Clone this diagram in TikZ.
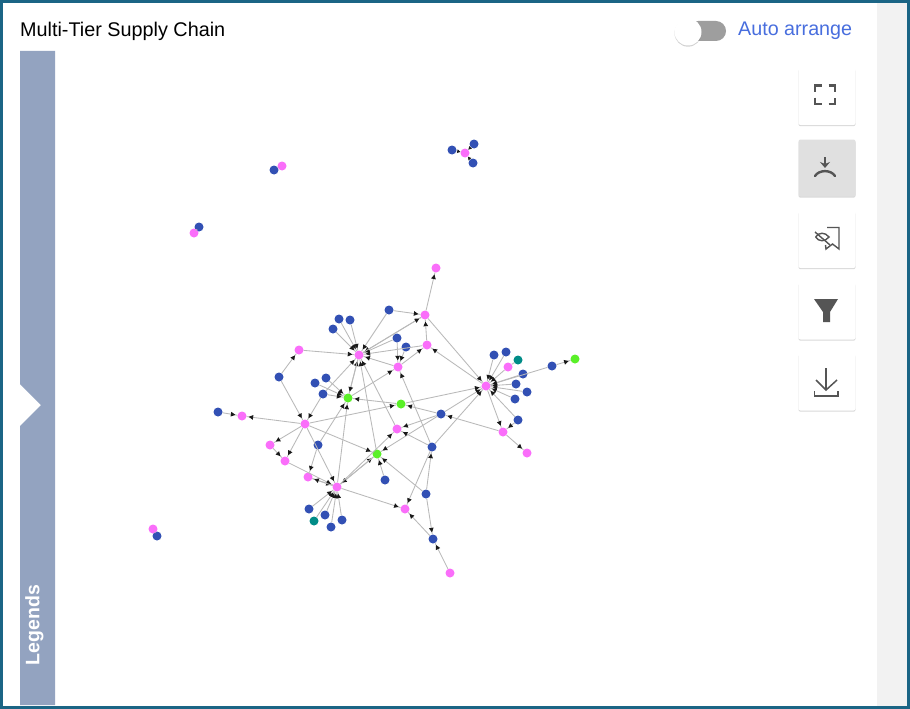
\documentclass[tikz,border=0pt]{standalone}
\usepackage{fontspec}
\setmainfont{Liberation Sans}
\usepackage{tikz}
\usetikzlibrary{arrows.meta,decorations.markings,shadows}
\definecolor{frameblue}{RGB}{27,101,133}
\definecolor{panelgrey}{RGB}{242,242,242}
\definecolor{legendblue}{RGB}{147,163,192}
\definecolor{linkgrey}{RGB}{185,185,185}
\definecolor{icongrey}{RGB}{85,85,85}
\definecolor{autoblue}{RGB}{72,110,222}
\definecolor{tierblue}{RGB}{50,80,180}
\definecolor{tierpink}{RGB}{250,110,250}
\definecolor{tiergreen}{RGB}{90,240,40}
\definecolor{tierteal}{RGB}{0,140,135}
\tikzset{
  bluedot/.style={circle, fill=tierblue, inner sep=0pt, minimum size=9pt},
  pinkdot/.style={circle, fill=tierpink, inner sep=0pt, minimum size=9pt},
  greendot/.style={circle, fill=tiergreen, inner sep=0pt, minimum size=9pt},
  tealdot/.style={circle, fill=tierteal, inner sep=0pt, minimum size=9pt},
  plainlink/.style={draw=linkgrey, line width=0.85pt},
  link/.style={plainlink, postaction={decorate}, decoration={markings,
    mark=at position -2pt with {\arrow[black!90]{Triangle[length=4.5pt,width=4.5pt]}}}},
  shortlink/.style={plainlink, postaction={decorate}, decoration={markings,
    mark=at position -0.2pt with {\arrow[black!90]{Triangle[length=3pt,width=3.5pt]}}}},
  toolbtn/.style={draw=none, fill=white, rounded corners=2pt, minimum width=57pt, minimum height=57pt,
    drop shadow={opacity=0.3, shadow xshift=0pt, shadow yshift=-1.2pt}},
  iconline/.style={draw=icongrey, line width=2.4pt},
}
\begin{document}
\begin{tikzpicture}[x=1pt, y=-1pt]
\useasboundingbox (0,0) rectangle (910,709);
% frame
\fill[white] (0,0) rectangle (910,709);
\fill[panelgrey] (877,3) rectangle (907,706);
\draw[frameblue, line width=3.5pt] (1.5,1.5) rectangle (908.5,707.5);

% header
\node[anchor=west, inner sep=0pt, font=\fontsize{19.8}{22}\selectfont] (title) at (20,31) {Multi-Tier Supply Chain};
\node[anchor=west, inner sep=0pt, font=\fontsize{19.7}{22}\selectfont, text=autoblue] (auto) at (738,31) {Auto arrange};
\fill[black!38, rounded corners=10pt] (688,21) rectangle (726,41);
\node[circle, fill=white, inner sep=0pt, minimum size=27pt, drop shadow={opacity=0.35, shadow xshift=0pt, shadow yshift=-1.2pt}] (knob) at (688,32) {};

% legends strip
\fill[legendblue] (20,51) -- (55,51) -- (55,705) -- (20,705) -- (20,426) -- (41,405) -- (20,384) -- cycle;
\node[rotate=90, text=white, inner sep=0pt, font=\fontsize{19.5}{22}\selectfont\bfseries] (legends) at (34.5,625) {Legends};

% buttons
\node[toolbtn] (fullbtn) at (827,96.5) {};
\node[toolbtn, fill=black!12] (fitbtn) at (827,168) {};
\node[toolbtn] (hidebtn) at (827,239.5) {};
\node[toolbtn] (filterbtn) at (827,311) {};
\node[toolbtn] (savebtn) at (827,382) {};

% icons
\draw[iconline] (815,91.5) -- (815,85.5) -- (821.5,85.5);
\draw[iconline] (828.5,85.5) -- (835,85.5) -- (835,91.5);
\draw[iconline] (815,97.5) -- (815,104) -- (821.5,104);
\draw[iconline] (828.5,104) -- (835,104) -- (835,97.5);
\draw[icongrey, line width=2.2pt, -{Stealth[length=6pt,width=10pt]}] (825,157) -- (825,168);
\draw[iconline, line cap=round] (815,176) .. controls (819,169.5) and (831,169.5) .. (835,176);
\draw[icongrey, line width=1.4pt] (827,227.5) -- (839,227.5) -- (839,249) -- (832.5,244) -- (826,249) -- (825.5,245);
\draw[icongrey, line width=1.4pt] (815.5,237) .. controls (819,232) and (825,232) .. (829,237) .. controls (825,242) and (819,242) .. (815.5,237);
\draw[icongrey, line width=1.4pt] (815,232) -- (830,245);
\fill[icongrey] (814,299) -- (838,299) -- (830,312) -- (830,322) -- (823,322) -- (823,312) -- cycle;
\draw[icongrey, line width=1.5pt] (826,368) -- (826,390);
\draw[icongrey, line width=1.5pt] (816,380) -- (826,390) -- (837,380);
\draw[icongrey, line width=1.5pt] (814.5,391) -- (814.5,396) -- (838,396) -- (838,391);

% blue nodes
\foreach \nm/\px/\py in {b1/389/310, b2/339/319, b3/350/320, b4/333/329, b5/397/338, b6/279/377, b7/326/378,
  b8/315/383, b9/323/394, b10/218/412, b11/406/347, b12/494/355, b13/506/352, b14/523/374, b15/552/366,
  b16/516/384, b17/527/392, b18/515/399, b19/518/420, b20/441/414, b21/318/445, b22/432/447, b23/385/480,
  b24/426/494, b25/433/539, b26/309/509, b27/325/515, b28/331/527, b29/342/520,
  b30/452/150, b31/474/144, b32/473/163, b33/274/170, b34/199/227, b35/157/536}
  \node[bluedot] (\nm) at (\px,\py) {};
% pink nodes
\foreach \nm/\px/\py in {p1/436/268, p2/425/315, p3/427/345, p4/299/350, p5/359/355, p6/398/367, p7/508/367,
  p8/486/386, p9/242/416, p10/305/424, p11/397/429, p12/503/432, p13/270/445, p14/527/453, p15/285/461,
  p16/308/477, p17/337/487, p18/405/509, p19/450/573, p20/465/153, p21/282/166, p22/194/233, p23/153/529}
  \node[pinkdot] (\nm) at (\px,\py) {};
% green and teal nodes
\foreach \nm/\px/\py in {g1/575/359, g2/348/398, g3/401/404, g4/377/454}
  \node[greendot] (\nm) at (\px,\py) {};
\node[tealdot] (t1) at (518,360) {};
\node[tealdot] (t2) at (314,521) {};

% links into the upper hub
\foreach \a/\b in {b1/p5, b2/p5, b3/p5, b4/p5, b5/p5, p4/p5, p6/p5, p2/p5, p3/p5, g2/p5, p11/p5, g4/p5, b9/p5,
  p5/p2, p5/g2, b21/g2, b6/p4, b6/p10, b7/g2, b8/g2, b9/g2, b9/p10, g3/g2, p17/g2, g2/p6,
  b1/p2, p3/p2, p2/p1, p6/p3, b5/p6, b11/p6, b22/p6}
  \draw[link] (\a) -- (\b);
% links into the right hub
\foreach \a/\b in {b12/p8, b13/p8, p7/p8, b14/p8, b15/p8, b16/p8, b17/p8, b18/p8, b19/p8, g3/p8, b20/p8, b22/p8,
  p2/p8, p8/p3, b15/g1, p8/p12, b19/p12, p12/p14, p12/b20}
  \draw[link] (\a) -- (\b);
\draw[plainlink] (t1) -- (p7);
% links round the lower hubs
\foreach \a/\b in {b10/p9, p10/p9, p10/g3, b20/g3, p10/p13, p10/p15, p13/p15, p10/p17, b21/p16, p15/p17, p16/p17, p17/p16,
  b26/p17, t2/p17, b27/p17, b28/p17, b29/p17, p17/g4, g4/p17, p17/p11, p10/g4, b23/g4, b24/g4, b20/g4, b20/p11, b22/p11,
  p17/p18, b22/p18, b25/p18, b24/b22, b24/b25, p19/b25}
  \draw[link] (\a) -- (\b);
% small separate groups
\foreach \a/\b in {b30/p20, b31/p20, b32/p20}
  \draw[shortlink] (\a) -- (\b);
\foreach \a/\b in {b33/p21, b34/p22, b35/p23}
  \draw[plainlink] (\a) -- (\b);
\end{tikzpicture}
\end{document}
